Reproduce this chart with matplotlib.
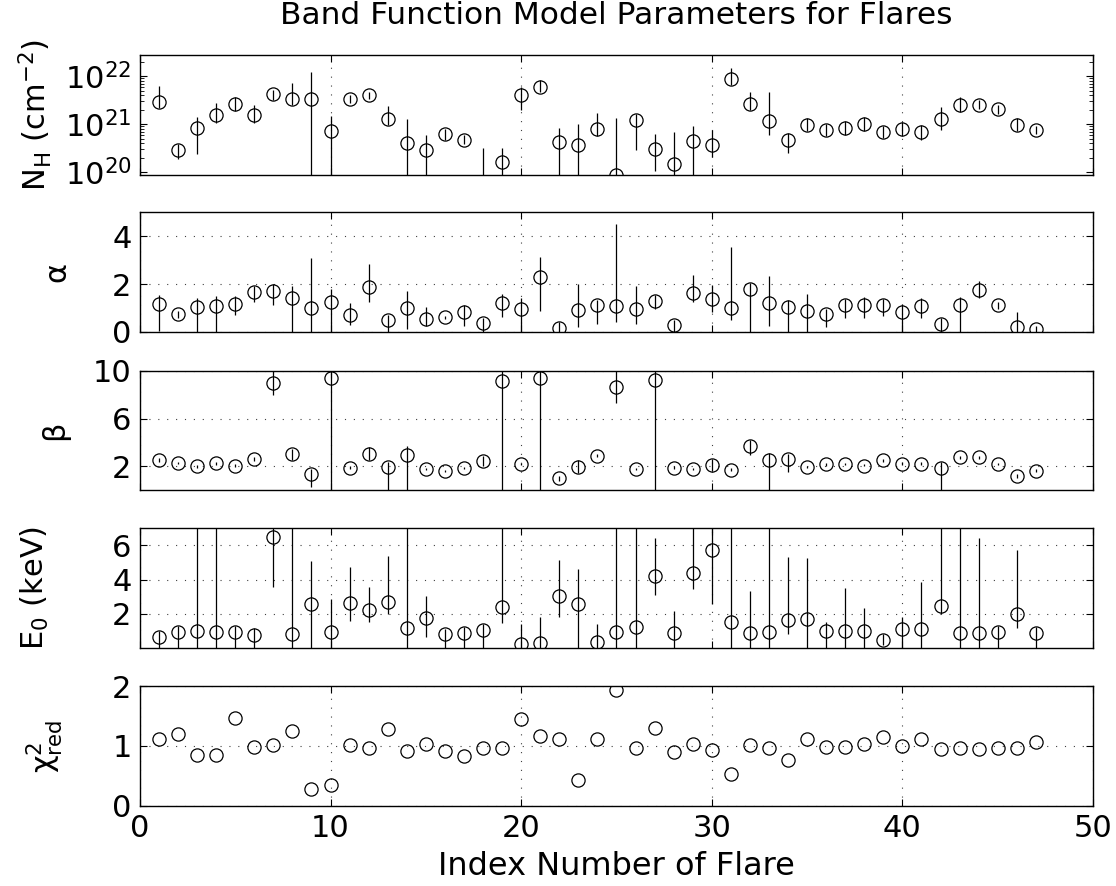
#band function fit parameters per flare, 5 stacked panels (matlab-ish look)

import numpy as np
import matplotlib
matplotlib.use("Agg")
import matplotlib.pyplot as plt

plt.rcParams['font.family'] = ['DejaVu Sans']
plt.rcParams['mathtext.fontset'] = 'dejavusans'
plt.rcParams['mathtext.default'] = 'regular'

flare = list(range(1, 48))

# N_H, stored as log10 (cm^-2)
nh_log = [21.47, 20.47, 20.92, 21.19, 21.42, 21.20, 21.62, 21.52, 21.52, 20.86,
          21.52, 21.60, 21.10, 20.61, 20.47, 20.79, 20.68, 19.60, 20.22, 21.60,
          21.78, 20.63, 20.56, 20.91, 19.95, 21.08, 20.49, 20.18, 20.65, 20.56,
          21.95, 21.42, 21.07, 20.67, 20.98, 20.89, 20.93, 21.01, 20.84, 20.90,
          20.83, 21.10, 21.40, 21.40, 21.31, 20.98, 20.88]
nh_hi_log = [21.79, 20.58, 21.15, 21.44, 21.56, 21.40, 21.71, 21.86, 22.09, 21.17,
             21.60, 21.68, 21.38, 21.10, 20.77, 20.91, 20.77, 20.51, 20.51, 21.78,
             21.92, 20.93, 21.00, 21.24, 21.14, 21.22, 20.79, 20.84, 20.96, 20.89,
             22.16, 21.67, 21.67, 20.81, 21.12, 21.01, 21.06, 21.15, 20.96, 21.05,
             20.98, 21.36, 21.57, 21.50, 21.39, 21.12, 20.96]
nh_lo_log = [21.33, 20.28, 20.39, 21.03, 21.28, 21.03, 21.51, 21.40, 19.0, 19.0,
             21.44, 21.52, 20.98, 19.0, 19.0, 20.67, 20.58, 19.0, 19.0, 21.29,
             21.67, 19.0, 19.0, 20.75, 19.0, 20.46, 20.03, 19.0, 19.0, 20.32,
             21.81, 21.29, 20.77, 20.40, 20.85, 20.76, 20.78, 20.86, 20.71, 20.75,
             20.68, 20.88, 21.26, 21.31, 21.22, 20.85, 20.80]

alpha = [1.16, 0.74, 1.06, 1.09, 1.17, 1.69, 1.72, 1.44, 1.02, 1.24,
         0.71, 1.87, 0.50, 1.02, 0.55, 0.62, 0.85, 0.38, 1.19, 0.97,
         2.28, 0.15, 0.91, 1.13, 1.09, 0.95, 1.30, 0.29, 1.62, 1.37,
         0.99, 1.80, 1.20, 1.03, 0.88, 0.74, 1.13, 1.13, 1.13, 0.85,
         1.10, 0.32, 1.13, 1.75, 1.13, 0.22, 0.13]
alpha_hi = [1.55, 0.88, 1.41, 1.52, 1.52, 1.90, 2.01, 1.93, 3.09, 1.80,
            1.20, 2.84, 0.71, 1.73, 1.06, 0.67, 1.13, 0.57, 1.58, 1.44,
            3.12, 0.43, 2.01, 1.34, 4.49, 1.90, 1.55, 0.50, 2.36, 1.97,
            3.54, 2.04, 2.32, 1.34, 1.58, 0.97, 1.38, 1.48, 1.38, 1.16,
            1.41, 0.60, 1.48, 2.11, 1.27, 0.83, 0.27]
alpha_lo = [0.04, 0.57, 0.0, 0.0, 0.69, 1.27, 1.13, 0.0, 0.0, 0.0,
            0.29, 1.27, 0.0, 0.11, 0.24, 0.56, 0.27, 0.0, 0.64, 0.0,
            0.88, 0.0, 0.22, 0.32, 0.41, 0.32, 0.97, 0.0, 1.24, 0.83,
            0.48, 0.0, 0.25, 0.0, 0.0, 0.22, 0.60, 0.57, 0.67, 0.0,
            0.57, 0.0, 0.0, 1.44, 0.97, 0.0, 0.0]

beta = [2.56, 2.31, 2.00, 2.28, 2.08, 2.59, 8.99, 3.00, 1.33, 9.41,
        1.89, 3.06, 1.92, 2.92, 1.80, 1.61, 1.86, 2.42, 9.16, 2.22,
        9.41, 1.00, 1.94, 2.87, 8.60, 1.78, 9.22, 1.89, 1.80, 2.14,
        1.72, 3.68, 2.56, 2.59, 1.94, 2.17, 2.22, 2.08, 2.50, 2.22,
        2.22, 1.89, 2.78, 2.78, 2.22, 1.24, 1.66]
beta_hi = [2.70, 2.40, 2.10, 2.40, 2.20, 2.75, 10.0, 3.48, 1.80, 11.0,
           2.00, 3.62, 2.36, 3.68, 1.90, 1.70, 1.95, 2.90, 11.0, 2.30,
           11.0, 1.20, 2.50, 3.00, 10.0, 1.90, 11.0, 2.00, 1.90, 2.64,
           1.85, 4.24, 3.12, 3.06, 2.05, 2.30, 2.30, 2.20, 2.60, 2.35,
           2.35, 2.36, 2.90, 2.90, 2.30, 1.40, 1.80]
beta_lo = [2.40, 2.20, 1.90, 2.15, 1.95, 2.45, 7.96, 2.50, 0.30, 0.0,
           1.80, 2.50, 0.0, 0.0, 1.70, 1.50, 1.78, 2.08, 0.0, 2.10,
           0.0, 0.80, 1.44, 2.75, 7.26, 1.68, 0.0, 1.78, 1.70, 1.66,
           1.60, 2.92, 0.0, 1.52, 1.85, 2.05, 2.10, 2.00, 2.40, 2.10,
           2.10, 0.0, 2.65, 2.65, 2.12, 1.00, 1.55]

e0 = [0.63, 0.96, 0.98, 0.92, 0.96, 0.78, 6.51, 0.82, 2.55, 0.96,
      2.65, 2.24, 2.69, 1.18, 1.75, 0.82, 0.86, 1.06, 2.39, 0.24,
      0.29, 3.02, 2.55, 0.33, 0.92, 1.22, 4.22, 0.86, 4.39, 5.73,
      1.51, 0.86, 0.96, 1.61, 1.71, 0.98, 0.98, 0.98, 0.47, 1.12,
      1.12, 2.43, 0.88, 0.88, 0.96, 2.00, 0.86]
e0_hi = [1.02, 1.31, 9.0, 9.0, 1.31, 1.18, 7.2, 9.0, 5.10, 2.88,
         4.75, 3.57, 5.37, 9.0, 3.02, 1.12, 1.22, 1.41, 9.0, 1.41,
         1.80, 5.14, 4.61, 1.41, 9.0, 9.0, 6.41, 2.16, 9.0, 9.0,
         9.0, 3.31, 9.0, 5.33, 5.29, 1.51, 3.53, 2.35, 0.80, 1.84,
         3.86, 9.0, 9.0, 6.41, 1.31, 5.73, 1.22]
e0_lo = [0.0, 0.0, 0.0, 0.0, 0.0, 0.0, 3.57, 0.0, 0.0, 0.0,
         1.60, 1.55, 2.00, 0.0, 0.63, 0.0, 0.0, 0.0, 1.45, 0.0,
         0.0, 1.80, 0.0, 0.0, 0.0, 0.0, 3.08, 0.0, 3.47, 2.59,
         0.0, 0.0, 0.0, 0.80, 0.0, 0.0, 0.0, 0.0, 0.20, 0.0,
         0.0, 2.00, 0.0, 0.0, 0.0, 1.18, 0.0]

chi2 = [1.12, 1.20, 0.84, 0.85, 1.47, 0.98, 1.02, 1.25, 0.28, 0.34,
        1.01, 0.97, 1.28, 0.92, 1.03, 0.91, 0.83, 0.96, 0.97, 1.45,
        1.16, 1.12, 0.43, 1.12, 1.93, 0.97, 1.30, 0.89, 1.03, 0.93,
        0.53, 1.02, 0.97, 0.77, 1.11, 0.98, 0.98, 1.03, 1.15, 0.99,
        1.11, 0.94, 0.97, 0.94, 0.96, 0.97, 1.06]

x = np.array(flare)
fig = plt.figure(figsize=(11.16, 8.86), dpi=100)

left, width, height = 0.1254, 0.854, 0.1351
bottoms = [0.8028, 0.6253, 0.4465, 0.2686, 0.0906]
axes = [fig.add_axes([left, b, width, height]) for b in bottoms]

grid_kw = dict(color='0.25', linestyle=(0, (1, 7)), linewidth=0.8)
eb_kw = dict(fmt='o', mfc='none', mec='k', ecolor='k', ms=9.5, mew=0.9,
             elinewidth=0.9, capsize=0)


def err(v, hi, lo):
    v = np.array(v)
    return v, np.vstack([v - np.array(lo), np.array(hi) - v])


# panel 1, N_H
ax = axes[0]
nh = 10.0 ** np.array(nh_log)
ax.errorbar(x, nh, yerr=[nh - 10.0 ** np.array(nh_lo_log), 10.0 ** np.array(nh_hi_log) - nh], **eb_kw)
ax.set_yscale('log')
ax.set_ylim(10 ** 19.95, 10 ** 22.44)
ax.set_yticks([1e20, 1e21, 1e22])
ax.set_ylabel(r'N$_\mathrm{H}$ (cm$^{-2}$)')
ax.xaxis.grid(True, **grid_kw)

# panel 2, alpha
ax = axes[1]
v, e = err(alpha, alpha_hi, alpha_lo)
ax.errorbar(x, v, yerr=e, **eb_kw)
ax.set_ylim(0, 5)
ax.set_yticks([0, 2, 4])
ax.set_ylabel('α')
ax.grid(True, **grid_kw)

# panel 3, beta
ax = axes[2]
v, e = err(beta, beta_hi, beta_lo)
ax.errorbar(x, v, yerr=e, **eb_kw)
ax.set_ylim(0, 10)
ax.set_yticks([2, 6, 10])
ax.set_ylabel('β')
ax.grid(True, **grid_kw)

# panel 4, E0
ax = axes[3]
v, e = err(e0, e0_hi, e0_lo)
ax.errorbar(x, v, yerr=e, **eb_kw)
ax.set_ylim(0, 7)
ax.set_yticks([2, 4, 6])
ax.set_ylabel(r'E$_0$ (keV)')
ax.grid(True, **grid_kw)

# panel 5, reduced chi^2
ax = axes[4]
ax.plot(x, chi2, 'o', mfc='none', mec='k', ms=9.5, mew=0.9)
ax.set_ylim(0, 2)
ax.set_yticks([0, 1, 2])
ax.set_ylabel(r'$\chi^2_{red}$')
ax.grid(True, **grid_kw)
ax.set_xlabel('Index Number of Flare', fontsize=23)
ax.xaxis.set_label_coords(0.5, -0.51)
ax.xaxis.label.set_va('center')

# ylabel x-centres (axes fraction), matlab puts each next to its tick labels
ylab_x = [-0.110, -0.087, -0.089, -0.110, -0.100]

for i, ax in enumerate(axes):
    ax.set_xlim(0, 50)
    ax.set_xticks([0, 10, 20, 30, 40, 50])
    ax.tick_params(direction='in', top=True, right=True, labelsize=22,
                   length=5, width=0.8, pad=6)
    ax.tick_params(which='minor', direction='in', right=True, length=3, width=0.6)
    ax.yaxis.label.set_size(22)
    ax.yaxis.set_label_coords(ylab_x[i], 0.5)
    ax.yaxis.label.set_va('center')
    for s in ax.spines.values():
        s.set_linewidth(1.0)
    if i < 4:
        ax.tick_params(labelbottom=False)

fig.text(0.552, 1 - 15 / 886, 'Band Function Model Parameters for Flares',
         ha='center', va='center', fontsize=22.5)

fig.savefig('out.png', dpi=100)
